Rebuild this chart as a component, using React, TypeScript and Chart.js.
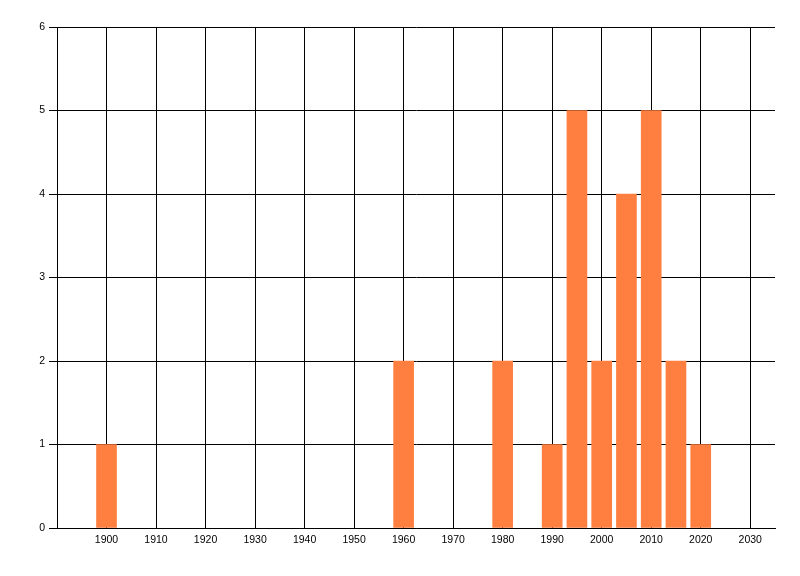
import React, { useEffect, useRef } from "react";
import { Chart, registerables } from "chart.js";

Chart.register(...registerables);

const years = [1900, 1960, 1980, 1990, 1995, 2000, 2005, 2010, 2015, 2020];
const counts = [1, 2, 2, 1, 5, 2, 4, 5, 2, 1];
const xTicks = [1900, 1910, 1920, 1930, 1940, 1950, 1960, 1970, 1980, 1990, 2000, 2010, 2020, 2030];
const yTicks = [0, 1, 2, 3, 4, 5, 6];

const font = { family: "Liberation Sans, Arial, sans-serif", size: 10.5 };

const App: React.FC = () => {
  const canvasRef = useRef<HTMLCanvasElement>(null);
  const chartRef = useRef<Chart>();

  useEffect(() => {
    document.body.style.margin = "0";
    const canvas = canvasRef.current;
    if (!canvas) {
      return;
    }
    const ctx = canvas.getContext("2d");
    if (!ctx) {
      return;
    }

    chartRef.current = new Chart(ctx, {
      type: "bar",
      data: {
        datasets: [
          {
            data: years.map((y, i) => ({ x: y, y: counts[i] })),
            backgroundColor: "#FF7F40",
            barThickness: 20,
          },
        ],
      },
      options: {
        responsive: false,
        animation: false,
        layout: { padding: { top: 27, right: 25, left: 0, bottom: 0 } },
        plugins: { legend: { display: false }, tooltip: { enabled: false } },
        scales: {
          x: {
            type: "linear",
            min: 1890,
            max: 2035,
            offset: false,
            afterBuildTicks: (scale) => {
              scale.ticks = xTicks.map((v) => ({ value: v }));
            },
            afterFit: (scale) => {
              scale.height = 48;
            },
            grid: { color: "#000", lineWidth: 1, drawTicks: false, offset: false },
            border: { color: "#000", width: 1 },
            ticks: {
              color: "#000",
              font,
              padding: 6,
              maxRotation: 0,
              autoSkip: false,
              callback: (v) => String(v),
            },
          },
          y: {
            min: 0,
            max: 6,
            afterBuildTicks: (scale) => {
              scale.ticks = yTicks.map((v) => ({ value: v }));
            },
            afterFit: (scale) => {
              scale.width = 57;
            },
            grid: { color: "#000", lineWidth: 1, tickLength: 8 },
            border: { color: "#000", width: 1 },
            ticks: { color: "#000", font, padding: 4 },
          },
        },
      },
    });

    return () => {
      if (chartRef.current) {
        chartRef.current.destroy();
      }
    };
  }, []);

  return <canvas ref={canvasRef} width={800} height={576} />;
};

export default App;
